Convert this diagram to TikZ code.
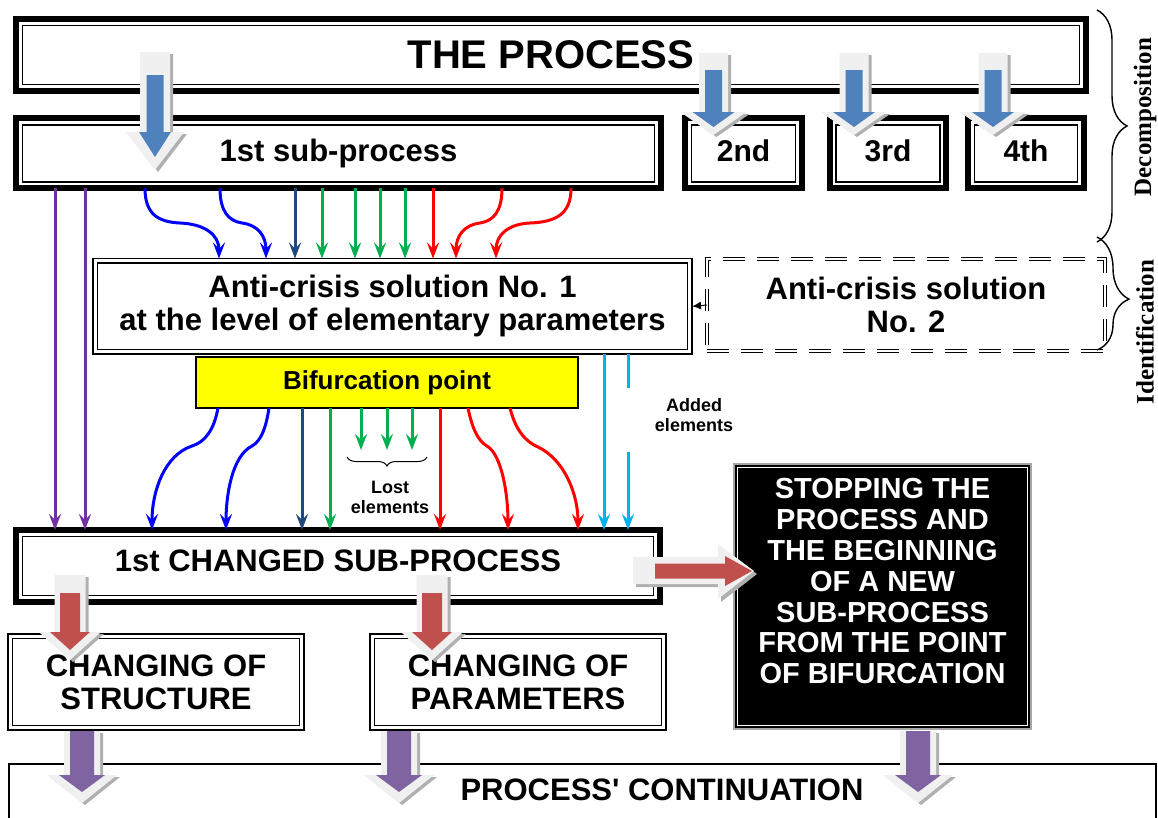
\documentclass[tikz,border=0pt]{standalone}
\usepackage{fontspec}
\setmainfont{Liberation Sans}
\newfontfamily\tnr{Liberation Serif}
\usetikzlibrary{arrows.meta,decorations.pathreplacing}
\definecolor{cPurple}{HTML}{7030A0}
\definecolor{cBlue}{HTML}{0000FF}
\definecolor{cDark}{HTML}{1F497D}
\definecolor{cGreen}{HTML}{00B050}
\definecolor{cRed}{HTML}{FF0000}
\definecolor{cLight}{HTML}{00B0F0}
\definecolor{bBlue}{HTML}{4F81BD}
\definecolor{bRed}{HTML}{C0504D}
\definecolor{bPurple}{HTML}{8064A2}
\definecolor{bFrame}{HTML}{F0F0F0}
\definecolor{bShadow}{HTML}{B0B0B0}
\definecolor{cYellow}{HTML}{FFFF00}
\colorlet{arrfill}{bBlue}
\newcommand\fs[2]{\fontsize{#1}{#2}\selectfont}
\newcommand\innerbox[3]{\draw[line width=#3] ([shift={(#2,#2)}]#1.north west) rectangle ([shift={(-#2,-#2)}]#1.south east);}
% down block arrow: cx, outer top, inner top, head y, inner tip, outer tip, inner shaft half, inner head half, extra
\newcommand\dnarrow[9]{%
  \pgfmathsetmacro\osh{#7+#9}%
  \pgfmathsetmacro\ohh{#8+2*#9}%
  \fill[bShadow] (#1-\osh+3,#2+2) -- (#1+\osh+3,#2+2) -- (#1+\osh+3,#4+2) -- (#1+\ohh+3,#4+2) -- (#1+3,#6+2) -- (#1-\ohh+3,#4+2) -- (#1-\osh+3,#4+2) -- cycle;
  \fill[bFrame] (#1-\osh,#2) -- (#1+\osh,#2) -- (#1+\osh,#4) -- (#1+\ohh,#4) -- (#1,#6) -- (#1-\ohh,#4) -- (#1-\osh,#4) -- cycle;
  \fill[arrfill] (#1-#7,#3) -- (#1+#7,#3) -- (#1+#7,#4) -- (#1+#8,#4) -- (#1,#5) -- (#1-#8,#4) -- (#1-#7,#4) -- cycle;
}
\tikzset{
  box/.style={outer sep=0pt, inner sep=0pt, align=center},
  thickbox/.style={box, draw, line width=6pt, fill=white},
  thinbox/.style={box, draw, line width=2pt, fill=white},
  conn/.style={line width=3pt, -{Stealth[length=16pt,width=12pt,inset=6pt]}},
  plain/.style={line width=3pt},
  lab/.style={font=\bfseries\fs{18}{20}, align=center, inner sep=0pt},
  side/.style={font=\tnr\bfseries\fs{25}{30}, rotate=90, inner sep=0pt},
  bracestyle/.style={line width=1.4pt, decorate},
}
\begin{document}
\begin{tikzpicture}[x=1pt,y=-1pt]
\useasboundingbox (0,0) rectangle (1158,817);
\fill[white] (0,0) rectangle (1158,817);

% ---------- boxes ----------
\node[thickbox, line width=5.7pt, minimum width=1070pt, minimum height=72pt, font=\bfseries\fs{40}{48}] (proc) at (551,55) {THE PROCESS};
\innerbox{proc}{6.5}{1.5pt}
\node[thickbox, minimum width=645pt, minimum height=70pt, font=\bfseries\fs{31}{36}] (sub1) at (338.6,153.3) {1st sub-process};
\innerbox{sub1}{6.5}{1.5pt}
\node[thickbox, minimum width=117pt, minimum height=70pt, text depth=6pt, font=\bfseries\fs{30}{36}] (sub2) at (743.5,153.3) {2nd};
\innerbox{sub2}{6.5}{1.5pt}
\node[thickbox, minimum width=116.7pt, minimum height=70pt, text depth=6pt, font=\bfseries\fs{30}{36}] (sub3) at (888,153.3) {3rd};
\innerbox{sub3}{6.5}{1.5pt}
\node[thickbox, minimum width=115.7pt, minimum height=70pt, text depth=6pt, font=\bfseries\fs{30}{36}] (sub4) at (1026,153.3) {4th};
\innerbox{sub4}{6.5}{1.5pt}

\node[thinbox, line width=1.5pt, minimum width=599pt, minimum height=95.5pt, font=\bfseries\fs{31}{33}] (sol1) at (392.5,306.3) {Anti-crisis solution No. 1\\at the level of elementary parameters};
\innerbox{sol1}{4.5}{1.2pt}

\node[box, draw, double, double distance=2.5pt, line width=1.2pt, dash pattern=on 22pt off 12pt, minimum width=398pt, minimum height=92pt, font=\bfseries\fs{31}{33}] (sol2) at (906,305) {Anti-crisis solution\\No. 2};

\node[box, draw, line width=1.5pt, fill=cYellow, minimum width=382pt, minimum height=51pt, font=\bfseries\fs{26}{30}] (bif) at (387,382.5) {Bifurcation point};

\node[thickbox, minimum width=644pt, minimum height=72pt, text depth=10pt, font=\bfseries\fs{31}{36}] (chg) at (338,566) {1st CHANGED SUB-PROCESS};
\innerbox{chg}{6.5}{1.5pt}

\node[thinbox, line width=2.5pt, minimum width=296pt, minimum height=96pt, font=\bfseries\fs{31}{33}] (cs) at (156,682) {CHANGING OF\\STRUCTURE};
\innerbox{cs}{4.5}{1.2pt}
\node[thinbox, line width=2.5pt, minimum width=296pt, minimum height=96pt, font=\bfseries\fs{31}{33}] (cp) at (518,682) {CHANGING OF\\PARAMETERS};
\innerbox{cp}{4.5}{1.2pt}

\node[box, draw=gray!70, line width=1.2pt, fill=black, text=white, minimum width=297pt, minimum height=265pt, font=\bfseries\fs{29}{30.8}] (stop) at (882.5,596.5) {STOPPING THE\\PROCESS AND\\THE BEGINNING\\OF A NEW\\SUB-PROCESS\\FROM THE POINT\\OF BIFURCATION\\\mbox{}};
\draw[white, line width=1pt] ([shift={(3.5,3.5)}]stop.north west) rectangle ([shift={(-3.5,-3.5)}]stop.south east);

\node[box, draw, line width=1.5pt, fill=white, minimum width=1147pt, minimum height=57pt, text depth=5pt, font=\bfseries\fs{31}{36}] (cont) at (582.5,792.5) {\hspace*{159pt}PROCESS\textquotesingle{} CONTINUATION};

% ---------- side braces ----------
\coordinate (decA) at (1097,10);
\coordinate (decB) at (1097,242);
\coordinate (idA) at (1097,237);
\coordinate (idB) at (1097,350);
\draw[bracestyle, decoration={brace, amplitude=30pt, aspect=0.5}] (decA) -- (decB);
\draw[bracestyle, decoration={brace, amplitude=32pt, aspect=0.55}] (idA) -- (idB);
\node[side] (dec) at (1145,117) {Decomposition};
\node[side] (ident) at (1145,332) {Identification};

% ---------- thin connectors: sub-process -> solution ----------
\draw[conn,cPurple] (55,0 |- sub1.south) -- (55,0 |- chg.north);
\draw[conn,cPurple] (85,0 |- sub1.south) -- (85,0 |- chg.north);
\draw[conn,cBlue] (145,0 |- sub1.south) .. controls (145,214) and (158,222) .. (180,223) .. controls (205,224) and (219,235) .. (219,0 |- sol1.north);
\draw[conn,cBlue] (220,0 |- sub1.south) .. controls (220,212) and (229,221) .. (242,223) .. controls (258,225) and (266,236) .. (266,0 |- sol1.north);
\draw[conn,cDark] (295,0 |- sub1.south) -- (295,0 |- sol1.north);
\draw[conn,cGreen] (322,0 |- sub1.south) -- (322,0 |- sol1.north);
\draw[conn,cGreen] (355,0 |- sub1.south) -- (355,0 |- sol1.north);
\draw[conn,cGreen] (380,0 |- sub1.south) -- (380,0 |- sol1.north);
\draw[conn,cGreen] (405,0 |- sub1.south) -- (405,0 |- sol1.north);
\draw[conn,cRed] (433,0 |- sub1.south) -- (433,0 |- sol1.north);
\draw[conn,cRed] (502,0 |- sub1.south) .. controls (502,212) and (493,221) .. (480,223) .. controls (464,225) and (456,236) .. (456,0 |- sol1.north);
\draw[conn,cRed] (571,0 |- sub1.south) .. controls (571,214) and (556,222) .. (530,223) .. controls (508,224) and (496,235) .. (496,0 |- sol1.north);

% solution 2 -> solution 1
\draw[line width=1pt, -{Latex[length=9pt,width=8pt]}] (sol2.west) -- (sol1.east);

% ---------- bifurcation -> changed sub-process ----------
\draw[conn,cBlue] (218,0 |- bif.south) .. controls (214,430) and (205,442) .. (192,446) .. controls (165,455) and (152,490) .. (152,0 |- chg.north);
\draw[conn,cBlue] (269,0 |- bif.south) .. controls (266,428) and (261,441) .. (252,446) .. controls (232,456) and (226,495) .. (226,0 |- chg.north);
\draw[conn,cDark] (302,0 |- bif.south) -- (302,0 |- chg.north);
\draw[conn,cGreen] (330,0 |- bif.south) -- (330,0 |- chg.north);
\coordinate (lost1) at (361,450);
\coordinate (lost2) at (387,450);
\coordinate (lost3) at (412,450);
\draw[conn,cGreen] (lost1 |- bif.south) -- (lost1);
\draw[conn,cGreen] (lost2 |- bif.south) -- (lost2);
\draw[conn,cGreen] (lost3 |- bif.south) -- (lost3);
\draw[conn,cRed] (440,0 |- bif.south) -- (440,0 |- chg.north);
\draw[conn,cRed] (468,0 |- bif.south) .. controls (472,428) and (478,441) .. (487,446) .. controls (502,455) and (508,495) .. (508,0 |- chg.north);
\draw[conn,cRed] (510,0 |- bif.south) .. controls (515,428) and (524,441) .. (538,447) .. controls (565,460) and (578,495) .. (578,0 |- chg.north);

% added elements (from solution 1)
\draw[conn,cLight] (604,0 |- sol1.south) -- (604,0 |- chg.north);
\coordinate (gapA) at (628,388);
\coordinate (gapB) at (628,452);
\draw[plain,cLight] (gapA |- sol1.south) -- (gapA);
\draw[conn,cLight] (gapB) -- (628,0 |- chg.north);

% labels
\draw[line width=1pt, decorate, decoration={brace, amplitude=9pt}] (427,457) -- (347,457);
\node[lab] (lost) at (390,497) {Lost\\elements};
\node[lab] (added) at (694,415) {Added\\elements};

% ---------- block arrows ----------
\colorlet{arrfill}{bBlue}
\dnarrow{155}{52}{75}{132}{157}{170}{8.5}{16}{6.5}
\dnarrow{713.5}{53}{70}{112}{127}{135}{8.5}{21}{6}
\dnarrow{854}{53}{70}{112}{127}{135}{8.5}{21}{6}
\dnarrow{993}{53}{70}{112}{127}{135}{8.5}{21}{6}

\colorlet{arrfill}{bRed}
\dnarrow{70}{575}{593}{632}{650}{660}{10}{20}{5.5}
\dnarrow{432}{575}{593}{632}{650}{660}{10}{20}{5.5}
% horizontal red arrow chg -> stop
\fill[bShadow] (636,560) -- (721,560) -- (721,547) -- (757,574) -- (721,602) -- (721,587) -- (636,587) -- cycle;
\fill[bFrame] (633,557) -- (718,557) -- (718,544) -- (754,571) -- (718,599) -- (718,584) -- (633,584) -- cycle;
\fill[bRed] (655,563.5) -- (725,563.5) -- (725,556) -- (752,571) -- (725,586) -- (725,578.5) -- (655,578.5) -- cycle;

\colorlet{arrfill}{bPurple}
\dnarrow{82}{731}{731}{775}{792}{803}{12}{23}{6}
\dnarrow{399}{731}{731}{775}{792}{803}{12}{23}{6}
\dnarrow{918}{731}{731}{775}{792}{803}{12}{23}{6}
\end{tikzpicture}
\end{document}
